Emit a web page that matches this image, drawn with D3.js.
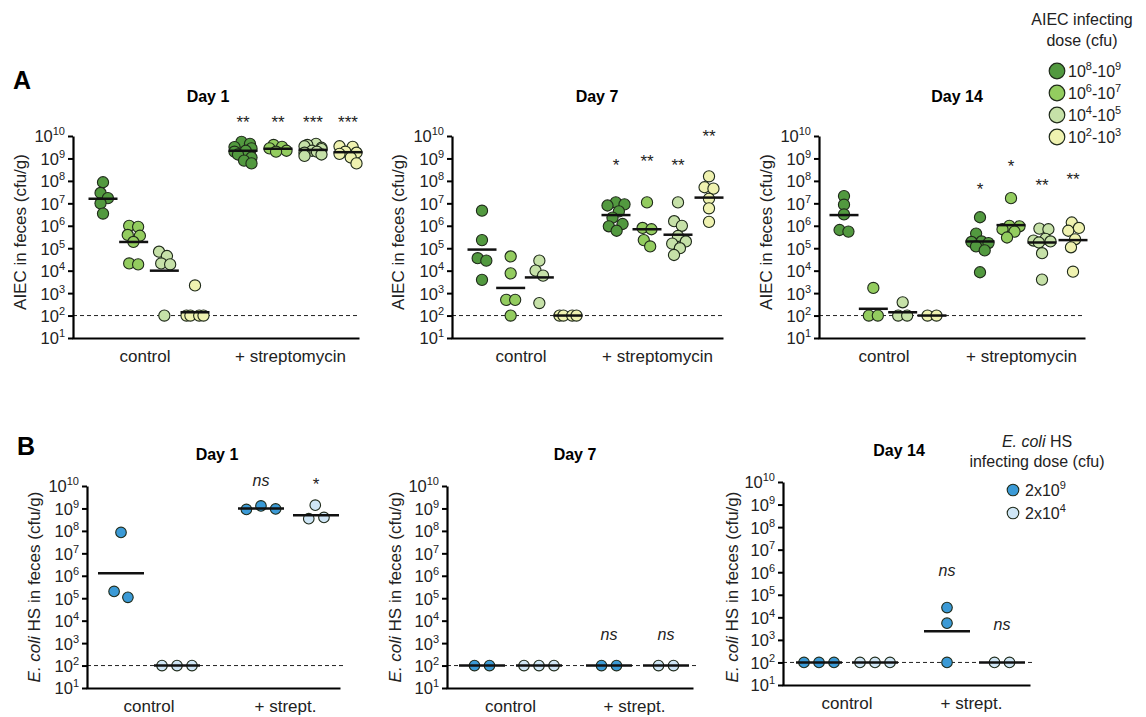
<!DOCTYPE html>
<html>
<head>
<meta charset="utf-8">
<script src="https://cdn.jsdelivr.net/npm/d3@7"></script>
<style>
body { margin: 0; background: #fff; }
text { font-family: Arial, "Liberation Sans", sans-serif; }
</style>
</head>
<body>
<svg id="chart" width="1146" height="717"></svg>
<script>
// ---- data (cfu/g) ----
var yTicks = [1e1, 1e2, 1e3, 1e4, 1e5, 1e6, 1e7, 1e8, 1e9, 1e10];
var detLimit = 1e2;

var aieDoses = [["10", "8", "-10", "9"], ["10", "6", "-10", "7"], ["10", "4", "-10", "5"], ["10", "2", "-10", "3"]];
var aieColors = ["#52993f", "#93cc5f", "#c6e1a8", "#eff2b0"];
var hsDoses = [["2x10", "9"], ["2x10", "4"]];
var hsColors = ["#3b9ad6", "#cfe6f6"];

// panel A, AIEC
var aDay1Ctrl = [[8.7e7, 2.9e7, 1.7e7, 1.0e7, 3.5e6],
                 [1.0e6, 9e5, 3.9e5, 3.6e5, 1.9e5, 2.1e4, 1.9e4],
                 [7e4, 4.5e4, 2.1e4, 1.9e4, 1e2],
                 [2.2e3, 1e2, 1e2, 1e2, 1e2]];
var aDay1CtrlMean = [1.6e7, 1.9e5, 1e4, 1.4e2];
var aDay1Strep = [[5.5e9, 4.5e9, 3.2e9, 2.8e9, 2.2e9, 2e9, 1.5e9, 1.1e9, 8e8, 6e8],
                  [4e9, 3.3e9, 2.8e9, 2.2e9, 2e9],
                  [4.5e9, 4e9, 3.5e9, 3e9, 2.6e9, 2.2e9, 2e9, 1.8e9, 1.5e9, 1.3e9],
                  [3.5e9, 3.3e9, 2e9, 1.8e9, 1.6e9, 1.1e9, 6e8]];
var aDay1StrepMean = [2.2e9, 2.7e9, 2.4e9, 1.9e9];
var aDay1Sig = ["**", "**", "***", "***"];
var aDay1SigAt = [6e10, 6e10, 6e10, 6e10];

var aDay7Ctrl = [[4.7e6, 2.3e5, 3.6e4, 2.8e4, 3.9e3],
                 [4.3e4, 7.6e3, 5e2, 5e2, 1e2],
                 [2.8e4, 1e4, 6e3, 3.6e2],
                 [1e2, 1e2, 1e2, 1e2]];
var aDay7CtrlMean = [8.7e4, 1.7e3, 5e3, 1e2];
var aDay7Strep = [[1.1e7, 9e6, 8e6, 4.4e6, 2.3e6, 1.2e6, 9.5e5, 6e5],
                  [1.1e7, 8e5, 7e5, 2.3e5, 1.2e5],
                  [1.1e7, 1.6e6, 1e6, 3.5e5, 2e5, 1.6e5, 1e5, 5e4],
                  [1.6e8, 5.2e7, 4.5e7, 1.6e7, 6e6, 1.5e6]];
var aDay7StrepMean = [3e6, 7e5, 4e5, 1.8e7];
var aDay7Sig = ["*", "**", "**", "**"];
var aDay7SigAt = [7e8, 1.05e9, 7e8, 1.35e10];

var aDay14Ctrl = [[2.1e7, 8.7e6, 3.2e6, 6.5e5, 5.5e5],
                  [1.7e3, 1e2, 1e2],
                  [3.9e2, 1e2, 1e2],
                  [1e2, 1e2]];
var aDay14CtrlMean = [3e6, 2e2, 1.4e2, 1e2];
var aDay14Strep = [[2.4e6, 4.5e5, 2e5, 1.9e5, 1.7e5, 1.2e5, 8e4, 8.5e3],
                   [1.7e7, 1e6, 9.5e5, 7e5, 5.5e5, 3e5],
                   [7.5e5, 7e5, 2.6e5, 2.2e5, 2e5, 1.8e5, 6e4, 4e3],
                   [1.4e6, 8e5, 6e5, 2.5e5, 1.1e5, 9e3]];
var aDay14StrepMean = [2e5, 1.07e6, 1.8e5, 2.3e5];
var aDay14Sig = ["*", "*", "**", "**"];
var aDay14SigAt = [5.9e7, 6.3e8, 8.9e7, 1.7e8];

// panel B, E. coli HS
var bDay1Ctrl = [[8.5e7, 2e5, 1.1e5], [1e2, 1e2, 1e2]];
var bDay1CtrlMean = [1.3e6, 1e2];
var bDay1Strep = [[1.3e9, 9.5e8, 9e8], [1.4e9, 4e8, 3.5e8]];
var bDay1StrepMean = [1e9, 5e8];
var bDay1Sig = ["ns", "*"];
var bDay1SigAt = [1.7e10, 1.7e10];

var bDay7Ctrl = [[1e2, 1e2], [1e2, 1e2, 1e2]];
var bDay7CtrlMean = [1e2, 1e2];
var bDay7Strep = [[1e2, 1e2], [1e2, 1e2]];
var bDay7StrepMean = [1e2, 1e2];
var bDay7Sig = ["ns", "ns"];
var bDay7SigAt = [2.3e3, 2.3e3];

var bDay14Ctrl = [[1e2, 1e2, 1e2], [1e2, 1e2, 1e2]];
var bDay14CtrlMean = [1e2, 1e2];
var bDay14Strep = [[2.7e4, 5.5e3, 1e2], [1e2, 1e2]];
var bDay14StrepMean = [2.4e3, 1e2];
var bDay14Sig = ["ns", "ns"];
var bDay14SigAt = [1.1e6, 4.4e3];

// ---- layout ----
var svg = d3.select("#chart");
var font = "Arial, 'Liberation Sans', sans-serif";

var panels = [
    {title: "Day 1", ctrl: aDay1Ctrl, ctrlMean: aDay1CtrlMean, strep: aDay1Strep, strepMean: aDay1StrepMean,
     sig: aDay1Sig, sigAt: aDay1SigAt, colors: aieColors, strepLabel: "+ streptomycin", kind: "A",
     yBottom: 338, yTop: 136, axisX: 73, axisEnd: 359, ctrlRange: [103, 195], strepRange: [243, 348], titleX: 208, labelX: 20},
    {title: "Day 7", ctrl: aDay7Ctrl, ctrlMean: aDay7CtrlMean, strep: aDay7Strep, strepMean: aDay7StrepMean,
     sig: aDay7Sig, sigAt: aDay7SigAt, colors: aieColors, strepLabel: "+ streptomycin", kind: "A",
     yBottom: 338, yTop: 136, axisX: 452, axisEnd: 723, ctrlRange: [482, 568], strepRange: [616, 709], titleX: 597, labelX: 398},
    {title: "Day 14", ctrl: aDay14Ctrl, ctrlMean: aDay14CtrlMean, strep: aDay14Strep, strepMean: aDay14StrepMean,
     sig: aDay14Sig, sigAt: aDay14SigAt, colors: aieColors, strepLabel: "+ streptomycin", kind: "A",
     yBottom: 338, yTop: 136, axisX: 819, axisEnd: 1085, ctrlRange: [844, 932], strepRange: [980, 1073], titleX: 957, labelX: 766},
    {title: "Day 1", ctrl: bDay1Ctrl, ctrlMean: bDay1CtrlMean, strep: bDay1Strep, strepMean: bDay1StrepMean,
     sig: bDay1Sig, sigAt: bDay1SigAt, colors: hsColors, strepLabel: "+ strept.", kind: "B",
     yBottom: 688, yTop: 486, axisX: 87, axisEnd: 340, ctrlRange: [121, 177], strepRange: [261, 316], titleX: 217, labelX: 34},
    {title: "Day 7", ctrl: bDay7Ctrl, ctrlMean: bDay7CtrlMean, strep: bDay7Strep, strepMean: bDay7StrepMean,
     sig: bDay7Sig, sigAt: bDay7SigAt, colors: hsColors, strepLabel: "+ strept.", kind: "B",
     yBottom: 688, yTop: 486, axisX: 447, axisEnd: 693, ctrlRange: [482, 539], strepRange: [609, 666], titleX: 575, labelX: 395},
    {title: "Day 14", ctrl: bDay14Ctrl, ctrlMean: bDay14CtrlMean, strep: bDay14Strep, strepMean: bDay14StrepMean,
     sig: bDay14Sig, sigAt: bDay14SigAt, colors: hsColors, strepLabel: "+ strept.", kind: "B",
     yBottom: 685, yTop: 482, axisX: 783, axisEnd: 1030, ctrlRange: [819, 875], strepRange: [947, 1002], titleX: 899, labelX: 732}
];

function drawPanel(p) {
    var isA = p.kind == "A";
    var y = d3.scaleLog().domain([1e1, 1e10]).range([p.yBottom, p.yTop]);
    var xc = d3.scalePoint().domain(d3.range(p.ctrl.length)).range(p.ctrlRange);
    var xs = d3.scalePoint().domain(d3.range(p.strep.length)).range(p.strepRange);
    var g = svg.append("g");

    // detection limit
    g.append("line")
        .attr("x1", p.axisX).attr("x2", p.axisEnd + (isA ? 0 : 5))
        .attr("y1", y(detLimit)).attr("y2", y(detLimit))
        .attr("stroke", "#222").attr("stroke-width", 1).attr("stroke-dasharray", "4,3");

    // y axis
    var yAxis = d3.axisLeft(y).tickValues(yTicks).tickSize(5).tickSizeOuter(0).tickPadding(3).tickFormat("");
    var ya = g.append("g")
        .attr("transform", "translate(" + p.axisX + ",0)")
        .call(yAxis)
        .attr("font-size", 16.5).attr("font-family", font);
    ya.select(".domain").attr("stroke-width", 2.2);
    ya.selectAll(".tick line").attr("stroke-width", 2);
    ya.selectAll(".tick text").attr("dy", "0.36em").attr("fill", "#222").each(function(d) {
        var t = d3.select(this);
        t.append("tspan").text("10");
        t.append("tspan").attr("dy", -7).attr("font-size", 11).text(Math.round(Math.log10(d)));
    });

    // x axis line
    var xAxis = d3.axisBottom(d3.scaleLinear().range([p.axisX - 1, p.axisEnd])).tickValues([]).tickSizeOuter(0);
    g.append("g").attr("transform", "translate(0," + p.yBottom + ")").call(xAxis)
        .select(".domain").attr("stroke-width", 2.2);

    // titles / labels
    g.append("text").attr("x", p.titleX).attr("y", p.yTop - (isA ? 34 : 26))
        .attr("text-anchor", "middle").attr("font-size", 16).attr("font-weight", "bold").text(p.title);

    var cMid = (p.ctrlRange[0] + p.ctrlRange[1]) / 2, sMid = (p.strepRange[0] + p.strepRange[1]) / 2;
    g.append("text").attr("x", cMid - (isA ? 4 : 0)).attr("y", p.yBottom + 24)
        .attr("text-anchor", "middle").attr("font-size", 17).attr("fill", "#222").text("control");
    g.append("text").attr("x", sMid - (isA ? 5 : 3)).attr("y", p.yBottom + 24)
        .attr("text-anchor", "middle").attr("font-size", 17).attr("fill", "#222").text(p.strepLabel);

    var ylab = g.append("text")
        .attr("transform", "translate(" + (p.labelX + 6) + "," + (isA ? 232 : 587) + ") rotate(-90)")
        .attr("text-anchor", "middle").attr("font-size", 17).attr("fill", "#222");
    if (isA) {
        ylab.text("AIEC in feces (cfu/g)");
    } else {
        ylab.append("tspan").attr("font-style", "italic").text("E. coli");
        ylab.append("tspan").text(" HS in feces (cfu/g)");
    }

    var r = isA ? 5.6 : 5.3;
    var rc = isA ? 4.5 : 7.5;
    var maxOff = isA ? 8.5 : 16;
    var lineW = isA ? 29 : 46;

    function group(vals, mean, cx, color, sig, sigAt) {
        var nodes = vals.map(function(v) { return {v: v, x: cx, fy: y(v)}; });
        var sim = d3.forceSimulation(nodes)
            .force("x", d3.forceX(cx).strength(0.06))
            .force("c", d3.forceCollide(rc).iterations(3))
            .stop();
        for (var i = 0; i < 250; i++) {
            sim.tick();
            nodes.forEach(function(n) { n.x = Math.max(cx - maxOff, Math.min(cx + maxOff, n.x)); });
        }
        g.append("g").selectAll("circle").data(nodes).join("circle")
            .attr("cx", function(d) { return d.x; })
            .attr("cy", function(d) { return d.fy; })
            .attr("r", r)
            .attr("fill", color)
            .attr("stroke", "#1f2a1a")
            .attr("stroke-width", 1.1);
        g.append("line")
            .attr("x1", cx - lineW / 2).attr("x2", cx + lineW / 2)
            .attr("y1", y(mean)).attr("y2", y(mean))
            .attr("stroke", "#111").attr("stroke-width", 2.5);
        if (sig) {
            var ns = sig == "ns";
            g.append("text").attr("x", cx).attr("y", y(sigAt) + (ns ? 5 : 9))
                .attr("text-anchor", "middle").attr("font-size", ns ? 16 : 17)
                .attr("font-style", ns ? "italic" : null)
                .attr("fill", "#222")
                .text(sig);
        }
    }

    p.ctrl.forEach(function(vals, i) { group(vals, p.ctrlMean[i], xc(i), p.colors[i], null, null); });
    p.strep.forEach(function(vals, i) { group(vals, p.strepMean[i], xs(i), p.colors[i], p.sig[i], p.sigAt[i]); });
}

panels.forEach(drawPanel);

// panel letters
svg.append("text").attr("x", 13).attr("y", 89).attr("font-size", 25).attr("font-weight", "bold").text("A");
svg.append("text").attr("x", 17).attr("y", 455).attr("font-size", 25).attr("font-weight", "bold").text("B");

// legend A
var legA = svg.append("g").attr("font-size", 16).attr("fill", "#222");
legA.append("text").attr("x", 1082).attr("y", 25).attr("text-anchor", "middle").text("AIEC infecting");
legA.append("text").attr("x", 1082).attr("y", 46).attr("text-anchor", "middle").text("dose (cfu)");
aieDoses.forEach(function(d, i) {
    var yy = 71 + i * 22;
    legA.append("circle").attr("cx", 1057).attr("cy", yy).attr("r", 7.8)
        .attr("fill", aieColors[i]).attr("stroke", "#1f2a1a").attr("stroke-width", 1.2);
    var t = legA.append("text").attr("x", 1068).attr("y", yy + 6);
    t.append("tspan").text(d[0]);
    t.append("tspan").attr("dy", -7).attr("font-size", 11).text(d[1]);
    t.append("tspan").attr("dy", 7).text(d[2]);
    t.append("tspan").attr("dy", -7).attr("font-size", 11).text(d[3]);
});

// legend B
var legB = svg.append("g").attr("font-size", 16).attr("fill", "#222");
var lt = legB.append("text").attr("x", 1037).attr("y", 447).attr("text-anchor", "middle");
lt.append("tspan").attr("font-style", "italic").text("E. coli");
lt.append("tspan").text(" HS");
legB.append("text").attr("x", 1037).attr("y", 467).attr("text-anchor", "middle").text("infecting dose (cfu)");
hsDoses.forEach(function(d, i) {
    var yy = 490 + i * 23;
    legB.append("circle").attr("cx", 1013).attr("cy", yy).attr("r", 5.8)
        .attr("fill", hsColors[i]).attr("stroke", "#1f2a1a").attr("stroke-width", 1.1);
    var t = legB.append("text").attr("x", 1025).attr("y", yy + 6);
    t.append("tspan").text(d[0]);
    t.append("tspan").attr("dy", -7).attr("font-size", 11).text(d[1]);
});
</script>
</body>
</html>
